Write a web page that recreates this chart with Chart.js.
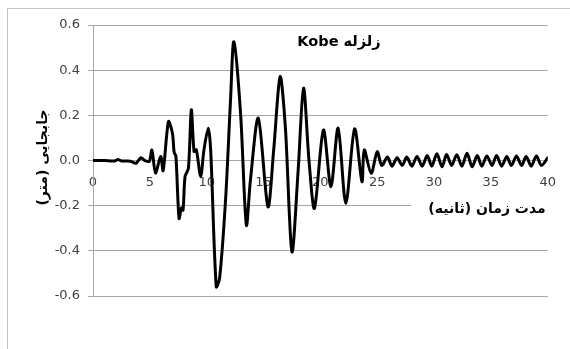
<!DOCTYPE html>
<html lang="fa">
<head>
<meta charset="utf-8">
<title>Kobe</title>
<style>
  html, body { margin: 0; padding: 0; background: #ffffff; }
  canvas { display: block; }
</style>
</head>
<body>
<canvas id="kobe" width="570" height="349"></canvas>
<script src="https://cdn.jsdelivr.net/npm/chart.js@4.4.1/dist/chart.umd.min.js"></script>
<script>
// Text shown on the chart
const chartTitle = 'زلزله Kobe';
const xAxisTitle = 'مدت زمان (ثانیه)';
const yAxisTitle = 'جابجایی (متر)';

// Axis ticks
const xTickValues = [0, 5, 10, 15, 20, 25, 30, 35, 40];
const yTickValues = [-0.6, -0.4, -0.2, 0, 0.2, 0.4, 0.6];

// Displacement record: time (s) and displacement (m)
const timeSec = [
  0, 1, 1.9, 2.2, 2.5, 3.3, 3.78, 4.22, 4.55, 4.95,
  5.18, 5.5, 5.95, 6.17, 6.64, 6.99, 7.14, 7.29, 7.57, 7.78,
  7.92, 8.1, 8.39, 8.65, 8.89, 9.09, 9.47, 9.76, 10.14, 10.35,
  10.84, 11.14, 11.66, 12.1, 12.39, 12.98, 13.49, 13.85, 14.54, 15.39,
  15.9, 16.46, 16.92, 17.5, 18.05, 18.52, 19.0, 19.48, 20.27, 20.93,
  21.56, 22.24, 23.01, 23.66, 23.86, 24.47, 25.0, 25.4, 25.9, 26.3,
  26.75, 27.2, 27.6, 28.05, 28.5, 28.95, 29.4, 29.8, 30.25, 30.7,
  31.1, 31.55, 32.0, 32.45, 32.9, 33.35, 33.8, 34.2, 34.65, 35.1,
  35.5, 35.95, 36.4, 36.8, 37.25, 37.7, 38.1, 38.55, 39.0, 39.45,
  40.0
];
const displacementM = [
  0, 0, -0.002, 0.004, -0.002, -0.003, -0.012, 0.012, 0.0, -0.004,
  0.046, -0.055, 0.018, -0.045, 0.172, 0.12, 0.035, 0.02, -0.256, -0.21,
  -0.22, -0.07, -0.035, 0.224, 0.04, 0.047, -0.07, 0.047, 0.143, 0.047,
  -0.559, -0.52, -0.175, 0.27, 0.526, 0.209, -0.286, -0.086, 0.187, -0.205,
  0.05, 0.371, 0.148, -0.404, -0.04, 0.32, 0.0, -0.212, 0.135, -0.116,
  0.143, -0.19, 0.14, -0.094, 0.047, -0.057, 0.039, -0.022, 0.015, -0.025,
  0.012, -0.022, 0.015, -0.025, 0.018, -0.025, 0.022, -0.025, 0.03, -0.028,
  0.027, -0.022, 0.026, -0.025, 0.032, -0.028, 0.022, -0.025, 0.02, -0.022,
  0.022, -0.025, 0.018, -0.022, 0.02, -0.022, 0.018, -0.025, 0.02, -0.022,
  0.012
];

const points = timeSec.map((t, i) => ({ x: t, y: displacementM[i] }));

const gridGray = '#a6a6a6';
const labelGray = '#404040';
const baseFont = '"DejaVu Sans", "Liberation Sans", sans-serif';

// Frame, chart title and axis titles (Persian text drawn right-to-left)
const persianText = {
  id: 'persianText',
  beforeDraw(chart) {
    const ctx = chart.ctx;
    ctx.save();
    ctx.fillStyle = '#ffffff';
    ctx.fillRect(0, 0, chart.width, chart.height);
    ctx.strokeStyle = '#c4c4c4';
    ctx.lineWidth = 1;
    ctx.strokeRect(7.5, 8.5, chart.width + 20, chart.height + 20);
    ctx.restore();
  },
  afterDraw(chart) {
    const { ctx, chartArea: a } = chart;
    ctx.save();
    ctx.direction = 'rtl';
    ctx.textAlign = 'center';
    ctx.textBaseline = 'middle';
    ctx.fillStyle = '#000000';

    ctx.font = 'bold 14.5px ' + baseFont;
    ctx.fillText(chartTitle, a.left + 246, a.top + 17);

    // x-axis title sits on a white box over the plot area
    ctx.fillStyle = '#ffffff';
    ctx.fillRect(a.left + 318, a.top + 172, a.right - (a.left + 318), 26);
    ctx.fillStyle = '#000000';
    ctx.font = 'bold 14px ' + baseFont;
    ctx.fillText(xAxisTitle, a.left + 394, a.top + 184);

    ctx.translate(43, (a.top + a.bottom) / 2 - 3);
    ctx.rotate(-Math.PI / 2);
    ctx.fillText(yAxisTitle, 0, 0);
    ctx.restore();
  }
};

new Chart(document.getElementById('kobe'), {
  type: 'line',
  data: {
    datasets: [{
      data: points,
      borderColor: '#000000',
      borderWidth: 3,
      pointRadius: 0,
      fill: false,
      tension: 0.3,
      borderJoinStyle: 'round',
      borderCapStyle: 'round'
    }]
  },
  options: {
    responsive: false,
    animation: false,
    devicePixelRatio: 1,
    layout: { padding: { left: 33, top: 25, right: 21, bottom: 53 } },
    plugins: {
      legend: { display: false },
      tooltip: { enabled: false },
      title: { display: false }
    },
    scales: {
      x: {
        type: 'linear',
        min: 0,
        max: 40,
        position: { y: 0 },
        afterBuildTicks: (scale) => { scale.ticks = xTickValues.map(v => ({ value: v })); },
        grid: { display: false, drawTicks: false },
        border: { display: false },
        ticks: {
          padding: 14,
          maxRotation: 0,
          color: labelGray,
          font: { family: baseFont, size: 13 },
          callback: (v) => String(v)
        }
      },
      y: {
        type: 'linear',
        min: -0.6,
        max: 0.6,
        afterBuildTicks: (scale) => { scale.ticks = yTickValues.map(v => ({ value: v })); },
        afterFit: (scale) => { scale.width = 60; },
        grid: { color: gridGray, lineWidth: 1, drawTicks: true, tickLength: 5, tickColor: gridGray },
        border: { display: true, color: gridGray, width: 1 },
        ticks: {
          padding: 8,
          color: labelGray,
          font: { family: baseFont, size: 13 },
          callback: (v) => Number(v).toFixed(1)
        }
      }
    }
  },
  plugins: [persianText]
});
</script>
</body>
</html>
